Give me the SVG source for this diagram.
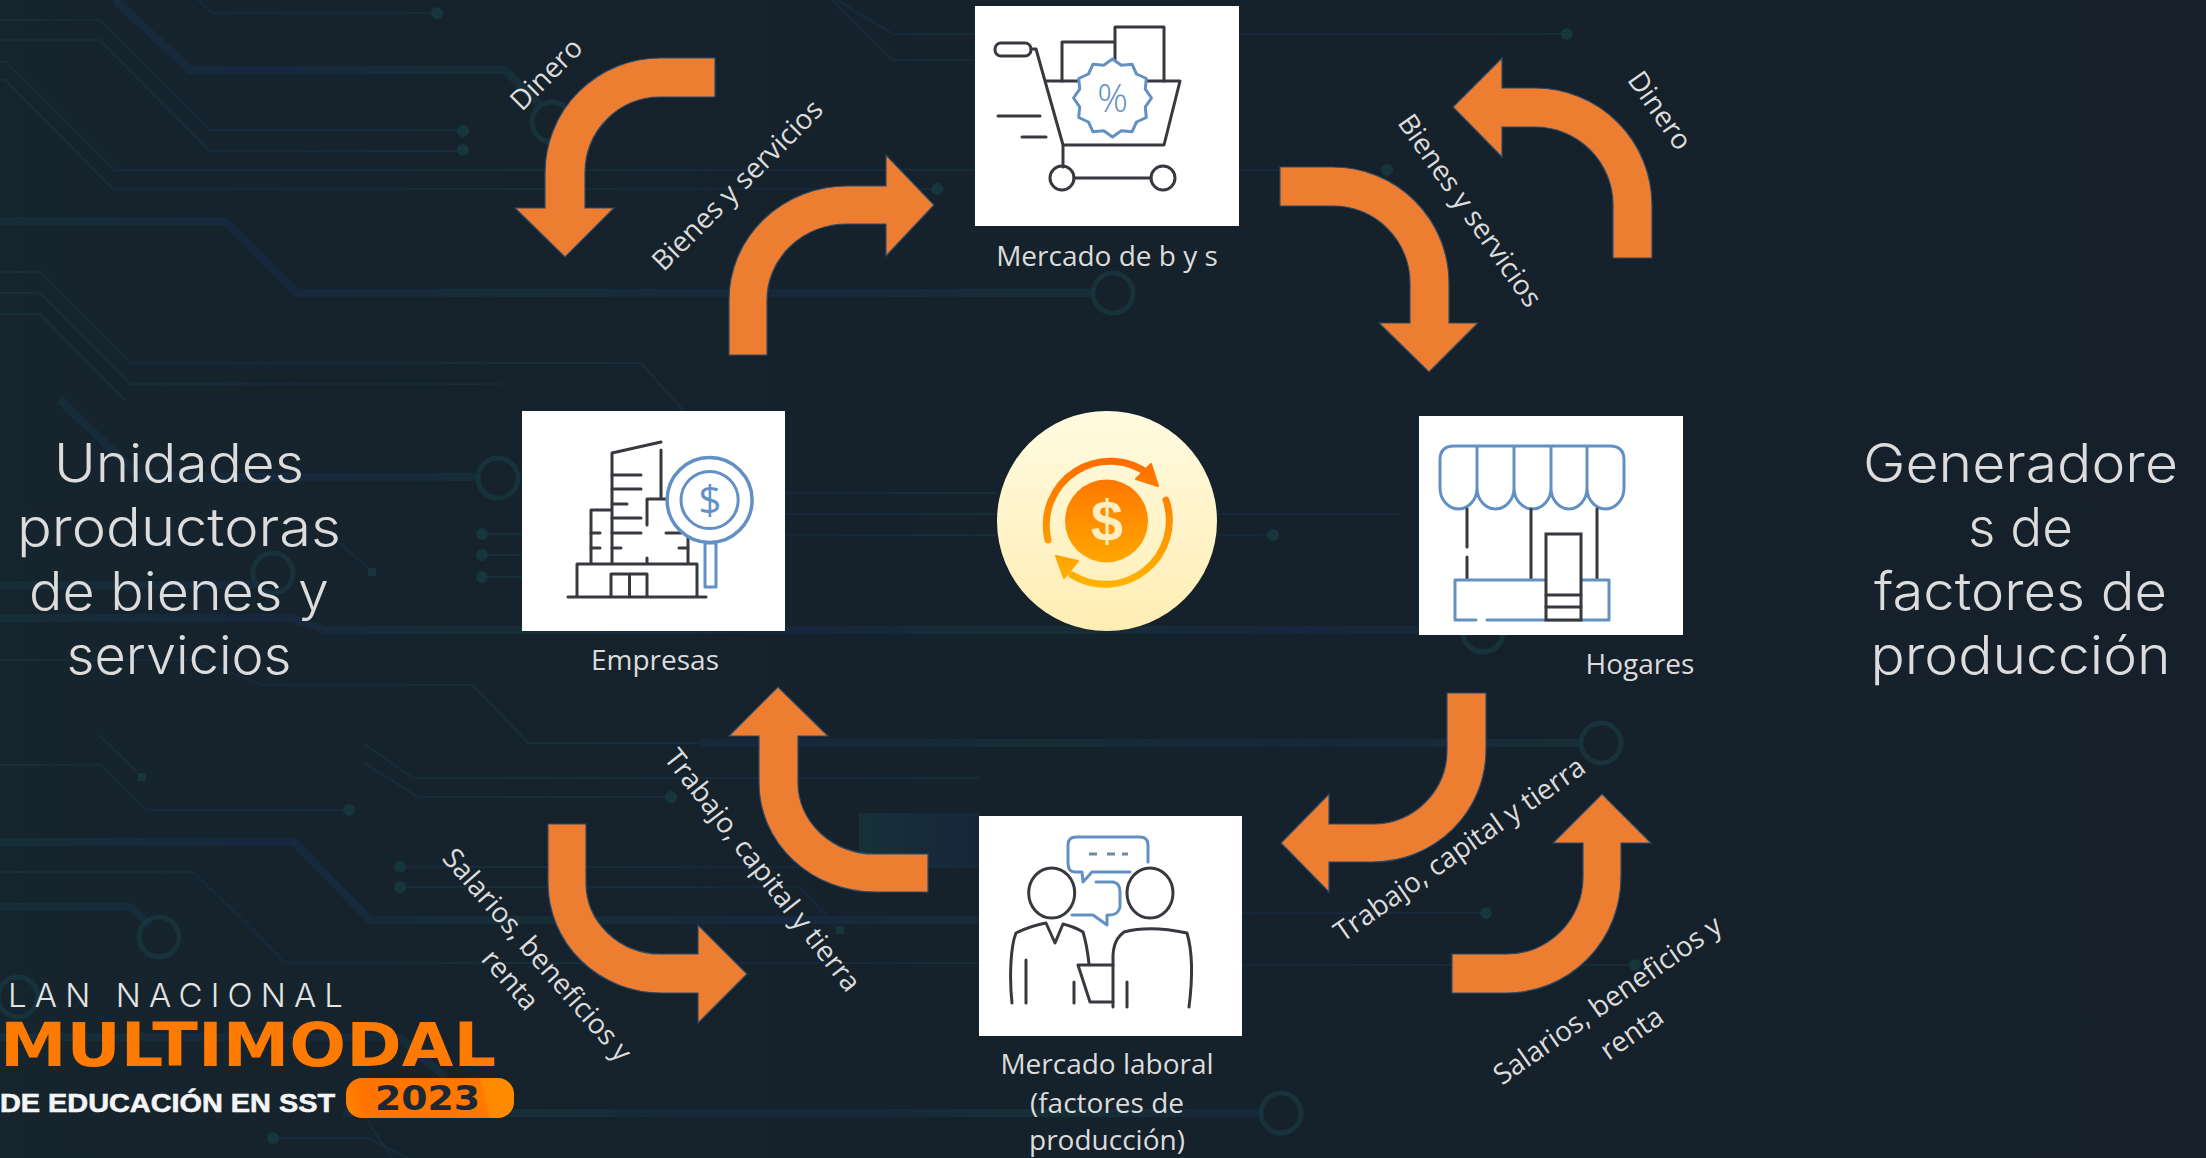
<svg xmlns="http://www.w3.org/2000/svg" width="2206" height="1158" viewBox="0 0 2206 1158">
<style>
.tr{fill:none;stroke-linejoin:round;opacity:.68}
.th{stroke-width:2.2}
.tk{stroke-width:8}
.mix{stroke:url(#mix)}
.dot{fill:#17393f;opacity:.85}
.ring{fill:none;stroke:#17343c;stroke-width:5;opacity:.9}
.arrow{fill:#ED7D31;stroke:#2c4a68;stroke-width:1.2}
.lbl{font-family:"Open Sans","Noto Sans","Liberation Sans",sans-serif;font-size:28px;fill:#dcdcdc;text-anchor:middle}
.title{font-family:Inter,"Noto Sans","Liberation Sans",sans-serif;font-weight:300;font-size:53px;fill:#dcdcdc;text-anchor:middle}
.card{fill:#fff}
.d{fill:none;stroke:#38393f;stroke-width:3;stroke-linecap:round;stroke-linejoin:round}
.b{fill:none;stroke:#6290c4;stroke-width:3;stroke-linecap:round;stroke-linejoin:round}
.ic{font-family:"Open Sans","Liberation Sans",sans-serif;text-anchor:middle;fill:#6290c4}
</style>
<defs>
<linearGradient id="bg" x1="0" y1="0" x2="1" y2="0"><stop offset="0" stop-color="#16242e"/><stop offset=".5" stop-color="#15212b"/><stop offset="1" stop-color="#15202a"/></linearGradient>
<linearGradient id="mix" gradientUnits="userSpaceOnUse" x1="0" y1="0" x2="520" y2="0" spreadMethod="reflect"><stop offset="0" stop-color="#17343c"/><stop offset=".5" stop-color="#182a45"/><stop offset="1" stop-color="#17343c"/></linearGradient>
<linearGradient id="coinbg" x1="0" y1="0" x2="0" y2="1"><stop offset="0" stop-color="#fffbe0"/><stop offset="1" stop-color="#ffedb4"/></linearGradient>
<linearGradient id="coin" gradientUnits="userSpaceOnUse" x1="0" y1="455" x2="0" y2="590"><stop offset="0" stop-color="#ff6a00"/><stop offset="1" stop-color="#ffb600"/></linearGradient>
<linearGradient id="logo" gradientUnits="userSpaceOnUse" x1="346" y1="1118" x2="514" y2="1078"><stop offset="0" stop-color="#ff8600"/><stop offset=".12" stop-color="#ff7400"/><stop offset=".8" stop-color="#ff7800"/><stop offset=".82" stop-color="#ff8a00"/><stop offset="1" stop-color="#ff8a00"/></linearGradient>
<linearGradient id="patch" x1="0" y1="0" x2="1" y2="0"><stop offset="0" stop-color="#173a42"/><stop offset="1" stop-color="#172a44"/></linearGradient>
</defs>
<rect width="2206" height="1158" fill="url(#bg)"/>

<g id="circuit-background">
<g class="tr mix tk">
<path d="M115,0 L190,70 L505,70 L540,105"/>
<path d="M0,221 L225,221 L297,293 L1094,293"/>
<path d="M60,400 L140,477 L480,477"/>
<path d="M0,585 L255,585"/>
<path d="M0,618 L290,618 L326,630 L1419,630"/>
<path d="M0,842 L294,842 L370,920 L979,920"/>
<path d="M700,743 L1581,743"/>
<path d="M343,1113 L1261,1113"/>
<path d="M0,907 L130,907 L150,925"/>
<path d="M0,1037 L400,1037 L445,1077"/>
</g>
<g class="tr mix th">
<path d="M198,0 L212,13 L437,13"/>
<path d="M0,20 L100,20 L210,130 L460,130"/>
<path d="M0,40 L100,40 L210,151 L460,151"/>
<path d="M0,62 L5,62 L115,170 L975,170 M1239,170 L1300,170"/>
<path d="M0,80 L5,80 L113,189 L937,189"/>
<path d="M0,272 L40,272 L130,363 L641,363 L685,412"/>
<path d="M0,293 L40,293 L130,384 L500,384"/>
<path d="M0,314 L40,314 L125,400"/>
<path d="M482,534 L522,534 M785,535 L1273,535"/>
<path d="M482,555 L522,555"/>
<path d="M482,577 L522,577"/>
<path d="M785,493 L997,493 M785,514 L1400,514"/>
<path d="M340,543 L372,572"/>
<path d="M0,660 L200,660 L262,685 L473,685 L528,743 L720,743"/>
<path d="M99,735 L142,777"/>
<path d="M0,765 L101,765 L147,810 L349,810"/>
<path d="M363,743 L413,778 L979,778"/>
<path d="M363,762 L418,797 L671,797"/>
<path d="M400,867 L979,867"/>
<path d="M400,887 L800,887 L839,930"/>
<path d="M193,872 L0,872 M193,872 L243,920 L286,963 L979,963 M1242,965 L1635,965"/>
<path d="M1242,913 L1486,913"/>
<path d="M837,0 L893,34 L1567,34"/>
<path d="M832,0 L893,60 L975,60"/>
<path d="M273,1138 L367,1138 L408,1158"/>
<path d="M367,1120 L392,1158"/>
</g>
<rect x="859" y="813" width="120" height="54" fill="url(#patch)" opacity=".6"/>
<circle class="ring" cx="552" cy="122" r="20"/>
<circle class="ring" cx="1113" cy="293" r="20"/>
<circle class="ring" cx="498" cy="478" r="20"/>
<circle class="ring" cx="273" cy="573" r="20"/>
<circle class="ring" cx="1483" cy="632" r="20"/>
<circle class="ring" cx="1601" cy="743" r="20"/>
<circle class="ring" cx="1281" cy="1113" r="20"/>
<circle class="ring" cx="159" cy="937" r="20"/>
<circle class="ring" cx="18" cy="997" r="20"/>
<g class="dot">
<circle cx="437" cy="13" r="6"/><circle cx="463" cy="131" r="6"/><circle cx="463" cy="150" r="6"/><circle cx="937" cy="189" r="6"/>
<circle cx="482" cy="534" r="6"/><circle cx="482" cy="555" r="6"/><circle cx="482" cy="577" r="6"/><circle cx="1273" cy="535" r="6"/>
<circle cx="349" cy="810" r="6"/><circle cx="671" cy="797" r="6"/><circle cx="400" cy="867" r="6"/><circle cx="400" cy="887" r="6"/>
<circle cx="1486" cy="913" r="6"/><circle cx="1635" cy="965" r="6"/><circle cx="1567" cy="34" r="6"/><circle cx="1387" cy="170" r="6"/><circle cx="273" cy="1138" r="6"/>
<rect x="368" y="568" width="8" height="8"/><rect x="138" y="773" width="8" height="8"/><rect x="836" y="926" width="8" height="8"/>
</g>
</g>

<g id="connectors">
<path class="arrow" d="M715,58 L660,58 A115,115 0 0 0 545,173 L545,208 L515,208 L565,257 L614,208 L585,208 L585,173 A75,76 0 0 1 660,97 L715,97 Z"/>
<path class="arrow" d="M729,355 L729,300 A118,114 0 0 1 847,186 L886,186 L886,155 L934,205 L886,256 L886,224 L847,224 A80,76 0 0 0 767,300 L767,355 Z"/>
<path class="arrow" d="M1280,167 L1333,167 A116,116 0 0 1 1449,283 L1449,323 L1478,323 L1429,372 L1379,323 L1410,323 L1410,283 A77,77 0 0 0 1333,206 L1280,206 Z"/>
<path class="arrow" d="M1652,258 L1652,205 A117,117 0 0 0 1535,88 L1502,88 L1502,58 L1453,107 L1502,157 L1502,127 L1535,127 A78,78 0 0 1 1613,205 L1613,258 Z"/>
<path class="arrow" d="M1447,693 L1447,750 A74,74 0 0 1 1373,824 L1329,824 L1329,794 L1281,843 L1329,892 L1329,862 L1373,862 A113,112 0 0 0 1486,750 L1486,693 Z"/>
<path class="arrow" d="M1452,954 L1507,954 A76,77 0 0 0 1583,877 L1583,843 L1553,843 L1602,794 L1651,843 L1621,843 L1621,877 A114,116 0 0 1 1507,993 L1452,993 Z"/>
<path class="arrow" d="M928,854 L875,854 A77,71 0 0 1 798,783 L798,736 L828,736 L778,687 L729,736 L759,736 L759,783 A116,109 0 0 0 875,892 L928,892 Z"/>
<path class="arrow" d="M548,824 L548,883 A113,110 0 0 0 661,993 L698,993 L698,1023 L747,974 L698,925 L698,954 L661,954 A75,71 0 0 1 586,883 L586,824 Z"/>
</g>

<g id="connector-labels">
<text class="lbl" transform="translate(553,81) rotate(-45)">Dinero</text>
<text class="lbl" transform="translate(744,192) rotate(-45)">Bienes y servicios</text>
<text class="lbl" transform="translate(1462,216) rotate(55)">Bienes y servicios</text>
<text class="lbl" transform="translate(1652,116) rotate(55)">Dinero</text>
<text class="lbl" transform="translate(1465,857) rotate(-35)">Trabajo, capital y tierra</text>
<text class="lbl" transform="translate(1613,1008) rotate(-35)">Salarios, beneficios y</text>
<text class="lbl" transform="translate(1637,1041) rotate(-35)">renta</text>
<text class="lbl" transform="translate(755,876) rotate(52)">Trabajo, capital y tierra</text>
<text class="lbl" transform="translate(530,961) rotate(49)">Salarios, beneficios y</text>
<text class="lbl" transform="translate(503,986) rotate(49)">renta</text>
</g>

<g id="node-mercado-bys">
<rect class="card" x="975" y="6" width="264" height="220"/>
<rect class="d" x="995" y="43" width="36" height="13" rx="6"/>
<path class="d" d="M1031,49 L1036,49 L1063,145 L1063,167 M1046,81 L1180,81 L1164,145 L1063,145"/>
<path class="d" d="M1062,81 L1062,42 L1115,42 L1115,81 M1115,42 L1115,27 L1164,27 L1164,81"/>
<path class="d" d="M998,116 L1040,116 M1022,137 L1046,137 M1074,178 L1151,178"/>
<circle class="d" cx="1062" cy="178" r="12"/><circle class="d" cx="1163" cy="178" r="12"/>
<polygon transform="translate(1112.5,98)" fill="#fff" stroke="#6290c4" stroke-width="3" stroke-linejoin="round" points="0,-39 8.8,-32.8 19.5,-33.8 24,-24 33.8,-19.5 32.8,-8.8 39,0 32.8,8.8 33.8,19.5 24,24 19.5,33.8 8.8,32.8 0,39 -8.8,32.8 -19.5,33.8 -24,24 -33.8,19.5 -32.8,8.8 -39,0 -32.8,-8.8 -33.8,-19.5 -24,-24 -19.5,-33.8 -8.8,-32.8"/>
<text class="ic" x="1112.5" y="112" font-size="38" font-weight="300">%</text>
<text class="lbl" x="1107" y="266">Mercado de b y s</text>
</g>

<g id="node-empresas">
<rect class="card" x="522" y="411" width="263" height="220"/>
<path class="d" d="M568,597 L706,597 M577,597 L577,564 L697,564 L697,597 M611,597 L611,574 L647,574 L647,597 M629.5,574 L629.5,597"/>
<path class="d" d="M612,563 L612,453 L661,442 M661,450 L661,498 M647,525 L647,499 L666,499 M591,563 L591,510 L612,510 M688,533 L688,563"/>
<path class="d" d="M612,475 L641,475 M612,489 L641,489 M612,504 L627,504 M612,518 L641,518 M612,533 L641,533 M591,533 L600,533 M591,548 L600,548 M612,548 L621,548 M666,533 L681,533 M679,548 L688,548 M647,558 L647,563"/>
<circle cx="709.6" cy="500" r="42.5" fill="#fff" stroke="#6290c4" stroke-width="3.5"/>
<circle class="b" cx="709.6" cy="500" r="28.6"/>
<rect class="b" x="705" y="543" width="11" height="44"/>
<text class="ic" x="710" y="514" font-size="40">$</text>
<text class="lbl" x="655" y="670">Empresas</text>
</g>

<g id="node-centro">
<circle cx="1107" cy="521" r="110" fill="url(#coinbg)"/>
<circle cx="1106.5" cy="521" r="41.5" fill="url(#coin)"/>
<text x="1107" y="541" font-family="Liberation Sans,sans-serif" font-weight="700" font-size="58" fill="#ffeec0" text-anchor="middle">$</text>
<g fill="none" stroke="url(#coin)" stroke-width="7" stroke-linecap="round">
<path d="M1048,540 A64,64 0 0 1 1150,475"/>
<path d="M1166,500 A64,64 0 0 1 1072,575"/>
</g>
<path fill="url(#coin)" stroke="url(#coin)" stroke-width="2" stroke-linejoin="round" d="M1158,486 L1151,464 L1136,479 Z M1056,556 L1078,561 L1064,578 Z"/>
</g>

<g id="node-hogares">
<rect class="card" x="1419" y="416" width="264" height="219"/>
<path class="b" d="M1440,488 L1440,460 Q1440,446 1454,446 L1610,446 Q1624,446 1624,460 L1624,488 A18.5,21 0 0 1 1587,488 A18,21 0 0 1 1551,488 A18.5,21 0 0 1 1514,488 A18.5,21 0 0 1 1477,488 A18.5,21 0 0 1 1440,488 M1477,446 L1477,488 M1514,446 L1514,488 M1551,446 L1551,488 M1587,446 L1587,488"/>
<path class="d" d="M1467,509 L1467,547 M1467,557 L1467,579 M1531,509 L1531,579 M1597,509 L1597,579"/>
<path class="b" d="M1476,620 L1455,620 L1455,580 L1609,580 L1609,620 L1487,620"/>
<rect x="1546" y="534" width="35" height="86" fill="#fff" stroke="#38393f" stroke-width="3"/>
<path class="d" d="M1546,595 L1581,595 M1546,607 L1581,607"/>
<text class="lbl" x="1640" y="674">Hogares</text>
</g>

<g id="node-mercado-laboral">
<rect class="card" x="979" y="816" width="263" height="220"/>
<ellipse class="d" cx="1051.7" cy="893" rx="23" ry="25"/>
<ellipse class="d" cx="1150" cy="893" rx="23" ry="25"/>
<path class="d" d="M1012,1003 C1009,975 1011,945 1016,933 Q1030,926 1046,923 L1055,943 L1063,924 Q1075,927 1083,932 Q1087,945 1089,964"/>
<path class="d" d="M1026,960 L1026,1003 M1074,982 L1074,1003 M1127,982 L1127,1007"/>
<path class="d" d="M1078,965 L1113,965 M1078,965 L1090,1002 L1113,1002"/>
<path class="d" d="M1113,1007 L1113,955 C1114,940 1120,935 1124,932 Q1150,925 1187,933 Q1195,960 1189,1007"/>
<path class="b" d="M1148,862 L1148,845 Q1148,837 1140,837 L1076,837 Q1068,837 1068,845 L1068,863 Q1068,872 1075,872 L1082,872 L1083,882 L1092,872 L1130,872"/>
<path d="M1089,854 L1097,854 M1107,854 L1115,854 M1122,854 L1128,854" fill="none" stroke="#6b8aa8" stroke-width="3"/>
<path class="b" d="M1096,882 L1113,882 Q1120,883 1120,892 L1120,907 Q1118,915 1110,915 L1107,915 L1107,925 L1093,915 L1072,915"/>
<text class="lbl" x="1107" y="1074">Mercado laboral</text>
<text class="lbl" x="1107" y="1113">(factores de</text>
<text class="lbl" x="1107" y="1150">producción)</text>
</g>

<g id="titulo-izquierda">
<text class="title" x="179" y="482" textLength="250" lengthAdjust="spacingAndGlyphs">Unidades</text>
<text class="title" x="179" y="546" textLength="324" lengthAdjust="spacingAndGlyphs">productoras</text>
<text class="title" x="179" y="610" textLength="300" lengthAdjust="spacingAndGlyphs">de bienes y</text>
<text class="title" x="179" y="674" textLength="225" lengthAdjust="spacingAndGlyphs">servicios</text>
</g>
<g id="titulo-derecha">
<text class="title" x="2020.5" y="482" textLength="315" lengthAdjust="spacingAndGlyphs">Generadore</text>
<text class="title" x="2020.5" y="546" textLength="105" lengthAdjust="spacingAndGlyphs">s de</text>
<text class="title" x="2020.5" y="610" textLength="293" lengthAdjust="spacingAndGlyphs">factores de</text>
<text class="title" x="2020.5" y="674" textLength="300" lengthAdjust="spacingAndGlyphs">producción</text>
</g>

<g id="logo">
<text x="8" y="1007" font-family="Inter,Liberation Sans,sans-serif" font-weight="300" font-size="33" fill="#e4e4e4" textLength="335">LAN NACIONAL</text>
<text x="0" y="1066" font-family="DejaVu Sans,sans-serif" font-weight="700" font-size="60" fill="#ff7a00" textLength="496" lengthAdjust="spacingAndGlyphs">MULTIMODAL</text>
<text x="0" y="1112" font-family="Liberation Sans,sans-serif" font-weight="700" font-size="26" fill="#f4f4f4" stroke="#f4f4f4" stroke-width=".6" textLength="335" lengthAdjust="spacingAndGlyphs">DE EDUCACIÓN EN SST</text>
<rect x="346" y="1078" width="168" height="40" rx="16" fill="url(#logo)"/>
<text x="375" y="1110" font-family="DejaVu Sans,sans-serif" font-weight="700" font-size="34" fill="#1a2935" textLength="105" lengthAdjust="spacingAndGlyphs">2023</text>
</g>
</svg>
